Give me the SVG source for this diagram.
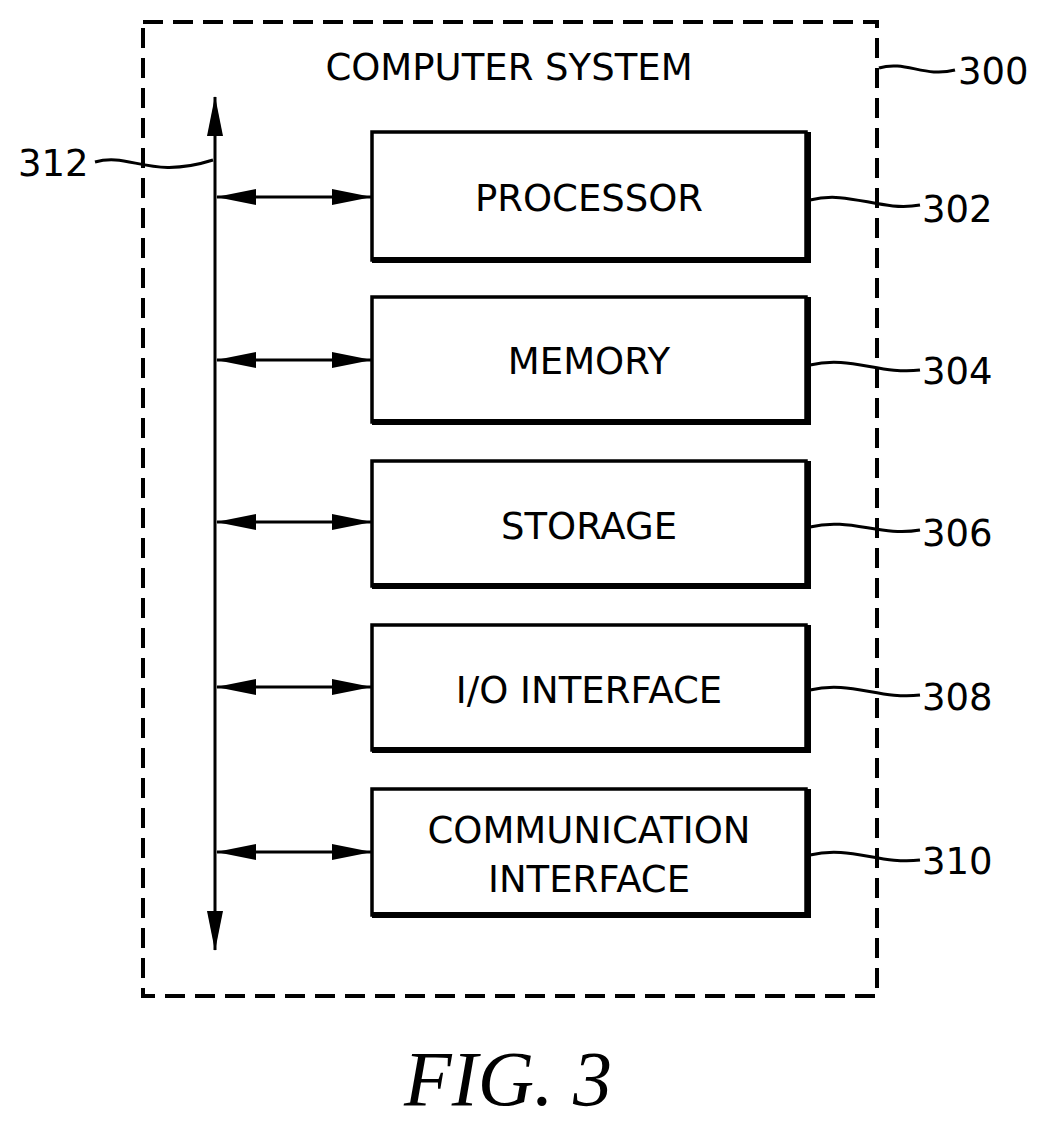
<svg xmlns="http://www.w3.org/2000/svg" width="1045" height="1127" viewBox="0 0 1045 1127">
<style>
.t{font-family:"DejaVu Sans",sans-serif;font-size:37px;fill:#000}
.ln{fill:none;stroke:#000;stroke-width:3}
.box{fill:#fff;stroke:#000;stroke-width:3.5}
.sh{fill:none;stroke:#000;stroke-width:6}
</style>
<defs>
<marker id="ah" viewBox="0 0 40 18" refX="39" refY="9" markerWidth="40" markerHeight="18" markerUnits="userSpaceOnUse" orient="auto-start-reverse"><path d="M0,1 L40,9 L0,17 z" fill="#000"/></marker>
</defs>
<rect x="143" y="22" width="734" height="974" fill="none" stroke="#000" stroke-width="4" stroke-dasharray="20,10"/>
<text class="t" x="509" y="80" text-anchor="middle">COMPUTER SYSTEM</text>
<text class="t" x="958" y="84">300</text>
<path class="ln" d="M879,68 C905,60 925,78 955,70"/>
<g id="connectors">
<line class="ln" x1="215" y1="97" x2="215" y2="950" stroke-width="4.5" marker-start="url(#ah)" marker-end="url(#ah)"/>
<line class="ln" x1="217" y1="197" x2="371" y2="197" stroke-width="5" marker-start="url(#ah)" marker-end="url(#ah)"/>
<line class="ln" x1="217" y1="360" x2="371" y2="360" stroke-width="5" marker-start="url(#ah)" marker-end="url(#ah)"/>
<line class="ln" x1="217" y1="522" x2="371" y2="522" stroke-width="5" marker-start="url(#ah)" marker-end="url(#ah)"/>
<line class="ln" x1="217" y1="687" x2="371" y2="687" stroke-width="5" marker-start="url(#ah)" marker-end="url(#ah)"/>
<line class="ln" x1="217" y1="852" x2="371" y2="852" stroke-width="5" marker-start="url(#ah)" marker-end="url(#ah)"/>
<path class="ln" d="M95,162 C130,152 150,180 213,160"/>
<path class="ln" d="M810,200 C850,190 880,212 920,205"/>
<path class="ln" d="M810,365 C850,355 880,375 920,370"/>
<path class="ln" d="M810,527 C850,517 880,537 920,530"/>
<path class="ln" d="M810,690 C850,680 880,700 920,695"/>
<path class="ln" d="M810,855 C850,845 880,865 920,860"/>
</g>
<text class="t" x="18" y="176">312</text>
<g id="processor"><rect class="box" x="372" y="132" width="434" height="128"/><path class="sh" d="M372,260 H808 V132"/><text class="t" x="589" y="211" text-anchor="middle">PROCESSOR</text><text class="t" x="922" y="222">302</text></g>
<g id="memory"><rect class="box" x="372" y="297" width="434" height="125"/><path class="sh" d="M372,422 H808 V297"/><text class="t" x="589" y="374" text-anchor="middle">MEMORY</text><text class="t" x="922" y="384">304</text></g>
<g id="storage"><rect class="box" x="372" y="461" width="434" height="125"/><path class="sh" d="M372,586 H808 V461"/><text class="t" x="589" y="539" text-anchor="middle">STORAGE</text><text class="t" x="922" y="546">306</text></g>
<g id="io"><rect class="box" x="372" y="625" width="434" height="125"/><path class="sh" d="M372,750 H808 V625"/><text class="t" x="589" y="703" text-anchor="middle">I/O INTERFACE</text><text class="t" x="922" y="710">308</text></g>
<g id="comm"><rect class="box" x="372" y="789" width="434" height="126"/><path class="sh" d="M372,915 H808 V789"/><text class="t" x="589" y="843" text-anchor="middle">COMMUNICATION</text><text class="t" x="589" y="892" text-anchor="middle">INTERFACE</text><text class="t" x="922" y="874">310</text></g>
<text x="508" y="1105" text-anchor="middle" font-family="Liberation Serif,serif" font-style="italic" font-size="78">FIG. 3</text>
</svg>
